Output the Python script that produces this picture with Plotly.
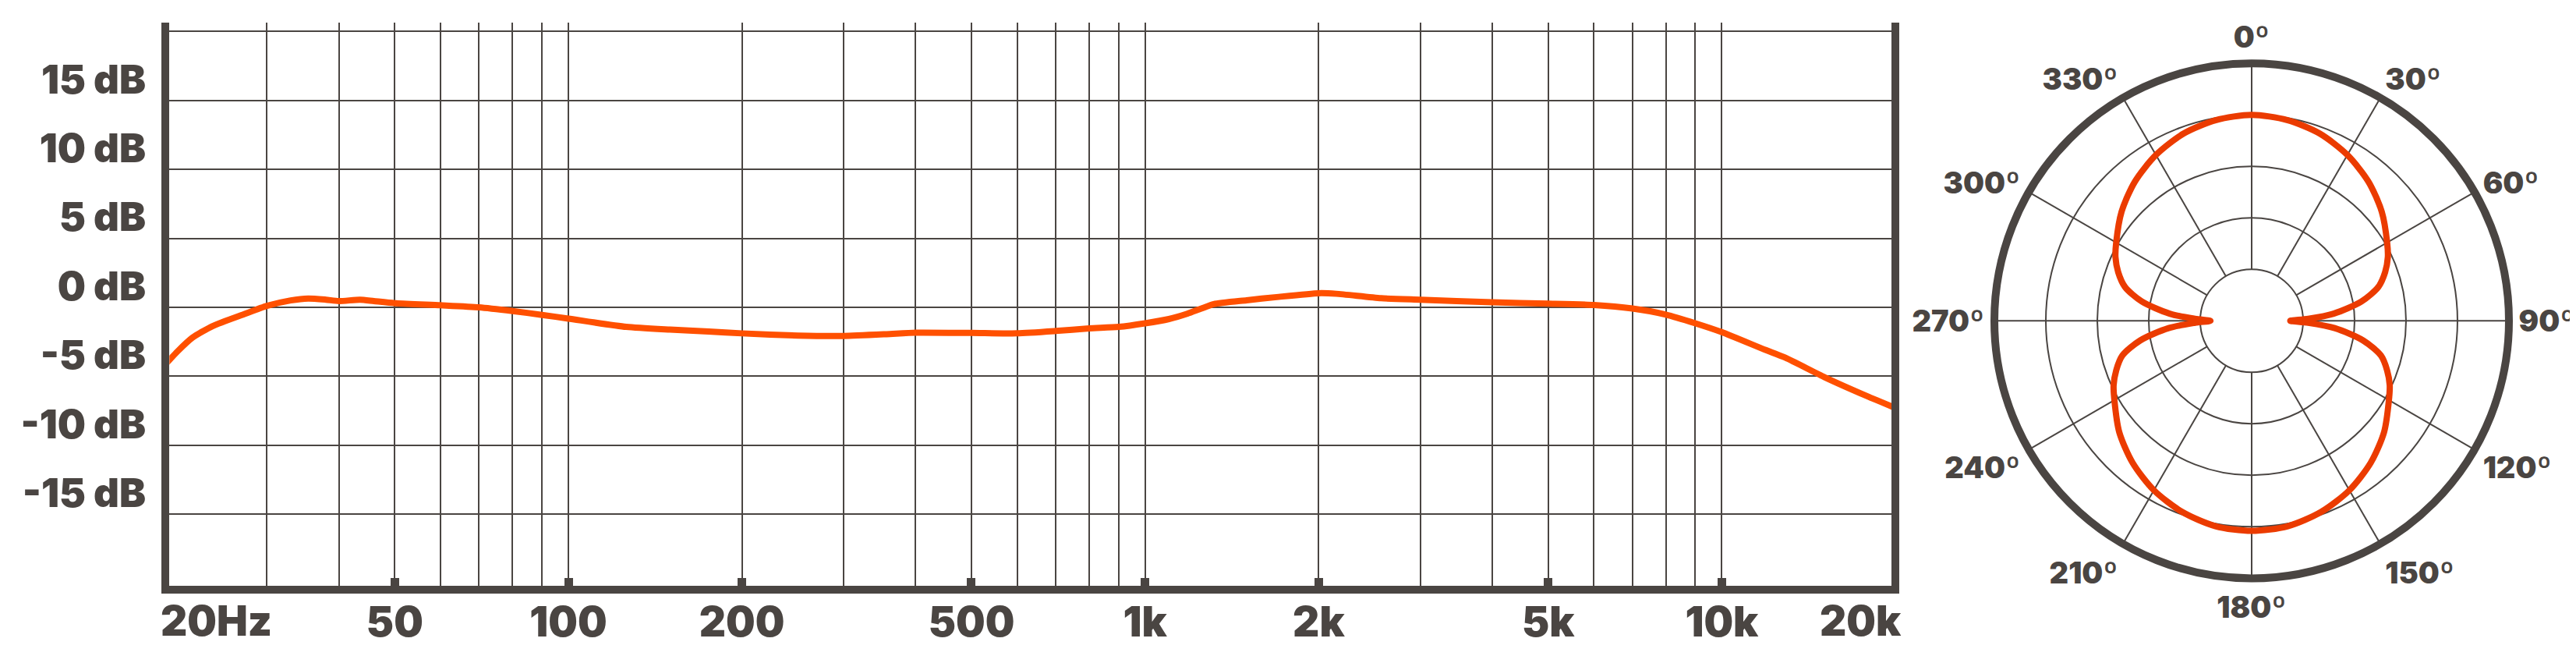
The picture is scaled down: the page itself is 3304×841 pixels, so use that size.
import plotly.graph_objects as go

INK = "#4a4542"
ORANGE = "#ff5000"
RED = "#eb3b00"
FONT = "Inter"

# frequency response (Hz, dB)
freq = [20, 21, 22.3, 24.2, 27.4, 30, 33, 35.4, 38, 40, 43.5, 46, 50, 60, 70, 80, 90,
        100, 126, 150, 175, 200, 250, 300, 356, 400, 500, 600, 700, 800, 900,
        1000, 1100, 1183, 1250, 1316, 1500, 1691, 2000, 2145, 2566, 3000, 4000,
        5000, 6000, 7000, 8000, 9000, 10000, 11900, 12900, 15100, 18000, 20000]
level = [-4.15, -3.2, -2.2, -1.35, -0.5, 0.1, 0.5, 0.64, 0.55, 0.45, 0.55, 0.45, 0.3, 0.15, 0.0, -0.27, -0.55,
         -0.82, -1.42, -1.62, -1.76, -1.89, -2.05, -2.08, -1.95, -1.84, -1.86, -1.89, -1.72, -1.53, -1.42,
         -1.16, -0.85, -0.47, -0.1, 0.23, 0.51, 0.74, 1.02, 0.98, 0.66, 0.55, 0.36,
         0.27, 0.17, -0.09, -0.53, -1.16, -1.8, -3.09, -3.66, -5.08, -6.5, -7.3]

major_ticks = [50, 100, 200, 500, 1000, 2000, 5000, 10000]
major_text = ["50", "100", "200", "500", "1k", "2k", "5k", "10k"]
minor_ticks = [30, 40, 60, 70, 80, 90, 300, 400, 600, 700, 800, 900,
               3000, 4000, 6000, 7000, 8000, 9000]
db_ticks = [-15, -10, -5, 0, 5, 10, 15, 20]
db_text = ["-15 dB", "-10 dB", "-5 dB", "0 dB", "5 dB", "10 dB", "15 dB", ""]

# polar pattern, ring units (inner ring = 1, outer ring = 5)
theta = [0, 10, 20, 30, 40, 50, 60, 65, 70, 75, 80, 85, 88, 90,
         92, 95, 100, 105, 110, 115, 120, 130, 140, 150, 160, 170, 180,
         190, 200, 210, 220, 230, 240, 245, 250, 255, 260, 265, 268, 270,
         272, 275, 280, 285, 290, 295, 300, 310, 320, 330, 340, 350, 360]
radius = [4.0, 3.96, 3.87, 3.72, 3.53, 3.3, 3.04, 2.92, 2.76, 2.55, 2.17, 1.6, 1.1, 0.75,
          1.1, 1.62, 2.2, 2.6, 2.8, 2.96, 3.08, 3.36, 3.6, 3.8, 3.95, 4.05, 4.08,
          4.05, 3.95, 3.8, 3.6, 3.36, 3.08, 2.96, 2.8, 2.6, 2.2, 1.62, 1.1, 0.8,
          1.1, 1.6, 2.17, 2.55, 2.76, 2.92, 3.04, 3.3, 3.53, 3.72, 3.87, 3.96, 4.0]
angle_ticks = list(range(0, 360, 30))
angle_text = [f"{a}º" for a in angle_ticks]
rings = [1, 2, 3, 4]

fig = go.Figure()
fig.add_trace(go.Scatter(x=freq, y=level, mode="lines",
                         line=dict(color=ORANGE, width=8, shape="spline", smoothing=0.6),
                         hoverinfo="skip"))
# a single point keeps the spoke subplot alive; it draws nothing
fig.add_trace(go.Scatterpolar(r=rings[:1], theta=angle_ticks[:1], mode="lines",
                              subplot="polar", hoverinfo="skip"))
fig.add_trace(go.Scatterpolar(r=radius, theta=theta, mode="lines", subplot="polar2",
                              line=dict(color=RED, width=8, shape="spline", smoothing=0.8),
                              hoverinfo="skip"))

tickfont_x = dict(family=FONT, size=53, color=INK, weight=900)
tickfont_y = dict(family=FONT, size=51, color=INK, weight=900)
pdomain = dict(x=[0.77179, 0.97155], y=[0.12806, 0.91284])

fig.update_layout(
    width=3304, height=841,
    margin=dict(l=0, r=0, t=0, b=0),
    paper_bgcolor="white", plot_bgcolor="white",
    showlegend=False,
    xaxis=dict(
        type="log", domain=[0.06335, 0.73193], range=[1.3082, 4.2947],
        showline=True, linewidth=10, linecolor=INK,
        tickmode="array", tickvals=major_ticks, ticktext=major_text,
        ticks="inside", ticklen=10, tickwidth=11, tickcolor=INK,
        showgrid=True, gridcolor=INK, gridwidth=2,
        minor=dict(tickmode="array", tickvals=minor_ticks, showgrid=True,
                   gridcolor=INK, gridwidth=2, ticks=""),
        tickfont=tickfont_x, ticklabelstandoff=-9, zeroline=False,
    ),
    xaxis2=dict(
        type="log", domain=[0.06335, 0.73193], range=[1.3082, 4.2947],
        overlaying="x", anchor="y", side="bottom",
        tickmode="array", tickvals=major_ticks, showticklabels=False,
        ticks="outside", ticklen=18, tickwidth=11, tickcolor=INK,
        showgrid=False, showline=False, zeroline=False,
    ),
    yaxis=dict(
        domain=[0.11617, 0.97503], range=[-20.21, 20.64],
        showline=True, mirror=True, linewidth=10, linecolor=INK,
        tickmode="array", tickvals=db_ticks, ticktext=db_text,
        ticks="", showgrid=True, gridcolor=INK, gridwidth=2, zeroline=False,
        tickfont=tickfont_y, ticklabelshift=-27, ticklabelstandoff=10,
    ),
    # spokes only, starting at the inner ring
    polar=dict(
        domain=pdomain, hole=0.2, bgcolor="white",
        radialaxis=dict(range=[1, 5], showgrid=False, showline=False,
                        showticklabels=False, ticks=""),
        angularaxis=dict(direction="clockwise", rotation=90,
                         tickmode="array", tickvals=angle_ticks,
                         showticklabels=False, ticks="", showline=False,
                         showgrid=True, gridcolor=INK, gridwidth=2),
    ),
    # rings, frame, labels and the pattern
    polar2=dict(
        domain=pdomain, bgcolor="rgba(0,0,0,0)",
        radialaxis=dict(range=[0, 5], tickmode="array", tickvals=rings,
                        showticklabels=False, ticks="", showline=False,
                        showgrid=True, gridcolor=INK, gridwidth=2),
        angularaxis=dict(direction="clockwise", rotation=90,
                         tickmode="array", tickvals=angle_ticks, ticktext=angle_text,
                         showline=True, linewidth=10, linecolor=INK, showgrid=False,
                         ticks="",
                         tickfont=dict(family=FONT, size=38, color=INK, weight=900)),
    ),
)

# end labels of the frequency axis sit flush with the frame
fig.add_annotation(x=1.309, y=0.0636, xref="x", yref="paper", text="20Hz",
                   showarrow=False, xanchor="left", yanchor="middle", xshift=-14,
                   font=tickfont_x)
fig.add_annotation(x=4.294, y=0.0636, xref="x", yref="paper", text="20k",
                   showarrow=False, xanchor="right", yanchor="middle", xshift=15,
                   font=tickfont_x)

fig.write_html("out.html")
